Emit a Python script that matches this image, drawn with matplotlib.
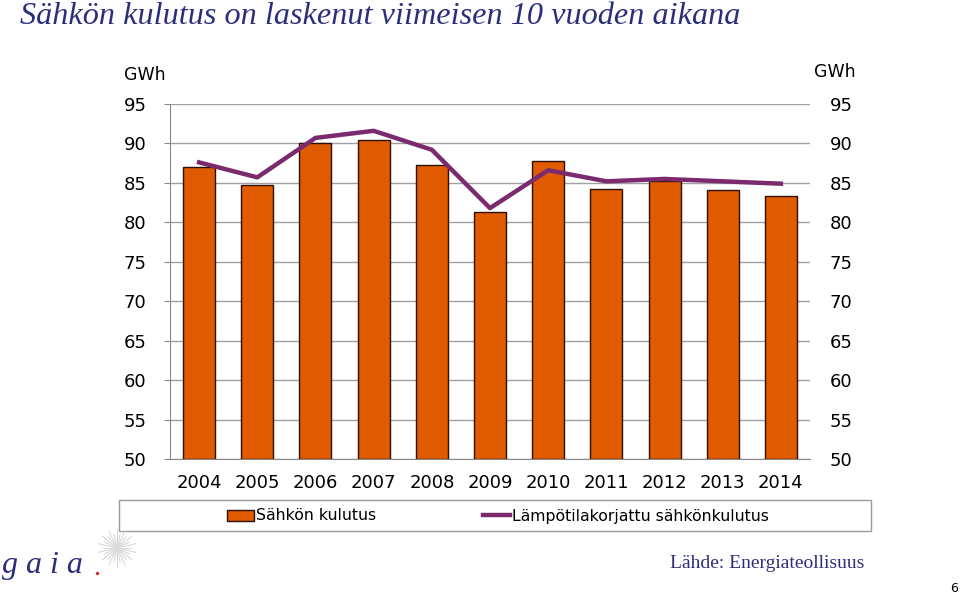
import numpy as np
import matplotlib.pyplot as plt

years = ["2004", "2005", "2006", "2007", "2008", "2009", "2010", "2011", "2012", "2013", "2014"]
kulutus = [87.0, 84.7, 90.0, 90.4, 87.3, 81.3, 87.8, 84.2, 85.2, 84.1, 83.3]
korjattu = [87.6, 85.7, 90.7, 91.6, 89.2, 81.8, 86.6, 85.2, 85.5, 85.2, 84.9]
yticks = [50, 55, 60, 65, 70, 75, 80, 85, 90, 95]

navy = "#2b2f7a"
bar_color = "#e05a00"
line_color = "#7b2a6e"

fig = plt.figure(figsize=(9.6, 5.93), dpi=100)
ax = fig.add_axes([170 / 960, 1 - 459 / 593, 640 / 960, 355 / 593])

x = np.arange(len(years))
bars = ax.bar(x, [v - 50 for v in kulutus], bottom=50, width=0.55, color=bar_color,
              edgecolor="#2a1000", linewidth=1.0, zorder=3)
line, = ax.plot(x, korjattu, color=line_color, linewidth=3.2, zorder=4)

ax.set_xlim(-0.5, len(years) - 0.5)
ax.set_ylim(50, 95)
ax.set_yticks(yticks)
ax.set_xticks(x)
ax.set_xticklabels(years)
ax.tick_params(axis="x", length=0, labelsize=13, pad=11)
ax.tick_params(axis="y", length=4, labelsize=13, pad=13, color="#888888")
ax.grid(axis="y", color="#a0a0a0", linewidth=1.0, zorder=0)
for s in ["top", "right"]:
    ax.spines[s].set_visible(False)
ax.spines["left"].set_color("#888888")
ax.spines["bottom"].set_color("#888888")

ax2 = ax.twinx()
ax2.set_ylim(50, 95)
ax2.set_yticks(yticks)
ax2.tick_params(axis="y", length=0, labelsize=13, pad=14)
for s in ax2.spines.values():
    s.set_visible(False)

fig.text(166 / 960, 1 - 75 / 593, "GWh", ha="right", va="center", fontsize=12.5)
fig.text(814 / 960, 1 - 72 / 593, "GWh", ha="left", va="center", fontsize=12.5)

# legend box
fig.add_artist(plt.Rectangle((119 / 960, 1 - 531 / 593), 752 / 960, 31 / 593,
                             fill=False, edgecolor="#999999", linewidth=1.0))
leg = fig.legend([bars, line], ["Sähkön kulutus", "Lämpötilakorjattu sähkönkulutus"],
                 loc="center", bbox_to_anchor=(498 / 960, 1 - 516 / 593),
                 ncol=2, frameon=False, fontsize=11.3, handlelength=1.7,
                 handletextpad=0.15, columnspacing=6.8, borderaxespad=0)

fig.text(20 / 960, 1 - 17 / 593, "Sähkön kulutus on laskenut viimeisen 10 vuoden aikana",
         ha="left", va="center", fontsize=23.2, style="italic", family="Liberation Serif", color=navy)

# logo
fig.text(2 / 960, 1 - 566 / 593, "g a i a", ha="left", va="center", fontsize=23,
         style="italic", family="Liberation Serif", color=navy)
cx, cy = 117 / 960, 1 - 548 / 593
for k, a in enumerate(np.linspace(0, 2 * np.pi, 28, endpoint=False)):
    r = 19 if k % 2 else 14
    fig.add_artist(plt.Line2D([cx, cx + r * np.cos(a) / 960], [cy, cy + r * np.sin(a) / 593],
                              color="#dadada", linewidth=0.8))
fig.add_artist(plt.Line2D([97 / 960], [1 - 573 / 593], marker="o", markersize=1.5,
                          color="#cc3333", linestyle="none"))

fig.text(670 / 960, 1 - 563 / 593, "Lähde: Energiateollisuus", ha="left", va="center",
         fontsize=14, family="Liberation Serif", color=navy)
fig.text(954 / 960, 1 - 588 / 593, "6", ha="center", va="center", fontsize=9)

fig.savefig("out.png", dpi=100)
